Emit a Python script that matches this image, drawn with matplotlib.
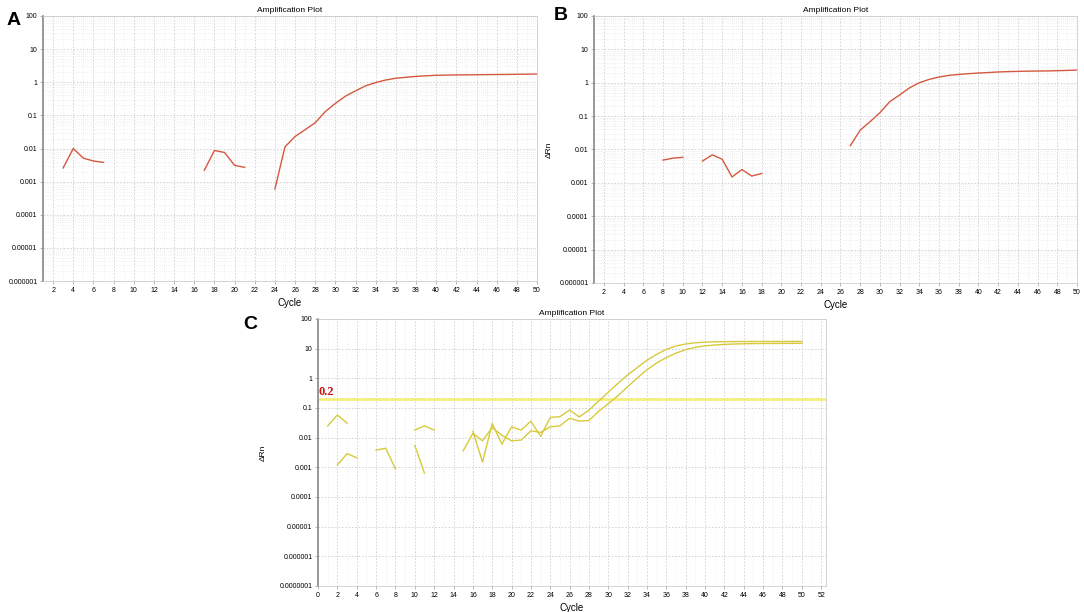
import numpy as np
import matplotlib
matplotlib.use('Agg')
import matplotlib.pyplot as plt
from matplotlib.ticker import FixedLocator, NullFormatter, LogLocator

plt.rcParams['font.family'] = ['Liberation Sans', 'DejaVu Sans']

nan = np.nan
cycles = np.arange(1, 51)

# Panel A - delta Rn per cycle (gaps = not plotted)
rn_a = [nan, nan, 0.0026, 0.010, 0.0051, 0.0042, 0.0038, nan, nan, nan,
        nan, nan, nan, nan, nan, nan, 0.0022, 0.0087, 0.0076, 0.0031,
        0.0027, nan, nan, 0.0006, 0.0112, 0.023, 0.037, 0.060, 0.13, 0.23,
        0.38, 0.55, 0.78, 0.98, 1.17, 1.32, 1.41, 1.50, 1.56, 1.62,
        1.64, 1.66, 1.67, 1.68, 1.70, 1.71, 1.72, 1.74, 1.75, 1.77]

# Panel B
rn_b = [nan, nan, nan, nan, nan, nan, nan, 0.0048, 0.0055, 0.0058,
        nan, 0.0045, 0.0069, 0.0051, 0.0015, 0.0025, 0.0016, 0.0019, nan, nan,
        nan, nan, nan, nan, nan, nan, 0.013, 0.038, 0.068, 0.126,
        0.27, 0.43, 0.70, 1.0, 1.26, 1.48, 1.66, 1.78, 1.87, 1.95,
        2.02, 2.10, 2.15, 2.19, 2.22, 2.24, 2.26, 2.29, 2.34, 2.40]

# Panel C - two wells
rn_c1 = [0.025, 0.058, 0.031, nan, nan, nan, nan, nan, nan, 0.018,
         0.025, 0.018, nan, nan, nan, 0.0166, 0.0015, 0.030, 0.006, 0.023,
         0.018, 0.036, 0.011, 0.048, 0.051, 0.085, 0.050, 0.085, 0.17, 0.34,
         0.68, 1.3, 2.3, 4.1, 6.4, 9.5, 12.3, 14.4, 15.8, 16.6,
         17.0, 17.2, 17.3, 17.4, 17.4, 17.5, 17.5, 17.5, 17.5, 17.5]
rn_c2 = [nan, 0.0012, 0.0029, 0.0021, nan, 0.0038, 0.0044, 0.00087, nan, 0.0055,
         0.00063, nan, nan, nan, 0.0036, 0.014, 0.0078, 0.022, 0.012, 0.0078,
         0.0083, 0.017, 0.015, 0.023, 0.025, 0.045, 0.036, 0.038, 0.077, 0.14,
         0.26, 0.52, 1.03, 1.95, 3.3, 5.0, 7.1, 9.2, 11.1, 12.4,
         13.3, 13.9, 14.3, 14.6, 14.8, 14.9, 15.0, 15.0, 15.1, 15.1]
threshold_c = 0.2

red = '#d4583f'
yellow = '#d8ca3c'


def style_axes(ax, ymin, xmin, xmax, xticks):
    ax.set_yscale('log')
    ax.set_ylim(ymin, 100)
    ax.set_xlim(xmin, xmax)
    decades = [10.0 ** k for k in range(int(round(np.log10(ymin))), 3)]
    ax.yaxis.set_major_locator(FixedLocator(decades))
    ax.set_yticklabels([('%.10f' % d).rstrip('0').rstrip('.') for d in decades])
    ax.yaxis.set_minor_locator(LogLocator(base=10, subs=np.arange(2, 10)))
    ax.yaxis.set_minor_formatter(NullFormatter())
    ax.set_xticks(xticks)
    ax.set_xticks(np.arange(int(np.ceil(xmin)), int(xmax) + 1), minor=True)
    ax.tick_params(axis='both', which='major', labelsize=5, length=2,
                   width=0.5, color='#999999', pad=2)
    ax.tick_params(axis='both', which='minor', length=0)
    ax.grid(True, which='major', color='#cfcfcf', linestyle=(0, (2, 2)), linewidth=0.6)
    ax.grid(True, which='minor', color='#e2e2e2', linestyle=(0, (1, 2)), linewidth=0.5)
    ax.set_axisbelow(True)
    for side in ['top', 'right', 'bottom']:
        ax.spines[side].set_color('#cccccc')
        ax.spines[side].set_linewidth(0.6)
    ax.spines['left'].set_color('#888888')
    ax.spines['left'].set_linewidth(1.2)
    ax.set_title('Amplification Plot', fontsize=6, pad=3)
    ax.set_xlabel('Cycle', fontsize=7, labelpad=3)


fig = plt.figure(figsize=(10.84, 6.12), dpi=100)

axA = fig.add_axes([0.0397, 0.5408, 0.4557, 0.4331])
axA.plot(cycles, rn_a, color=red, linewidth=1.0)
style_axes(axA, 1e-6, 1, 50, np.arange(2, 51, 2))
fig.text(0.006, 0.967, 'A', fontsize=14, fontweight='bold', ha='left', va='center')

axB = fig.add_axes([0.548, 0.5376, 0.4456, 0.4363])
axB.plot(cycles, rn_b, color=red, linewidth=1.0)
style_axes(axB, 1e-6, 1, 50, np.arange(2, 51, 2))
axB.set_ylabel('ΔRn', fontsize=6, labelpad=5)
fig.text(0.511, 0.975, 'B', fontsize=14, fontweight='bold', ha='left', va='center')

axC = fig.add_axes([0.2934, 0.0425, 0.4686, 0.4363])
axC.axhline(threshold_c, color='#f4ef7c', linewidth=2.0, zorder=2)
axC.plot(cycles, rn_c1, color=yellow, linewidth=1.0, zorder=3)
axC.plot(cycles, rn_c2, color=yellow, linewidth=1.0, zorder=3)
style_axes(axC, 1e-7, 0, 52.5, np.arange(0, 53, 2))
axC.text(0.05, threshold_c * 1.08, '0.2', color='#cc1111', fontsize=9,
         fontweight='bold', family=['Liberation Serif', 'DejaVu Serif'],
         ha='left', va='bottom')
axC.set_ylabel('ΔRn', fontsize=6, labelpad=9)
fig.text(0.224, 0.47, 'C', fontsize=14, fontweight='bold', ha='left', va='center')

fig.savefig('out.png', dpi=100)
